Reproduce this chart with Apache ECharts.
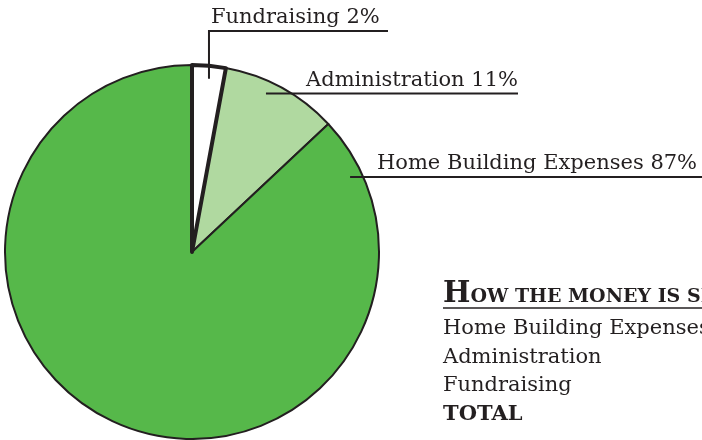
<!DOCTYPE html>
<html><head><meta charset="utf-8">
<script src="https://cdn.jsdelivr.net/npm/echarts@6/dist/echarts.min.js"></script>
<style>html,body{margin:0;padding:0;background:#fff}#c{width:702px;height:440px}</style>
</head><body><div id="c"></div>
<script>
// ---- data ----
const categories = ['Fundraising', 'Administration', 'Home Building Expenses'];
const values = [2.9, 10.1, 87];
const labelPercents = ['2%', '11%', '87%'];
const tableTitleFirst = 'H';
const tableTitleRest = 'OW THE MONEY IS SPENT';
const tableRows = ['Home Building Expenses', 'Administration', 'Fundraising'];
const tableTotal = 'TOTAL';

// ---- style / layout ----
const colors = ['#ffffff', '#b0d9a0', '#56b84a'];
const ink = '#231f20';
const FONT = 'DejaVu Serif';
const cx = 192, cy = 252, R = 187;
// leader geometry: anchor angle (deg clockwise from top), anchor radius, elbow y (or null), end x, label side
const leaders = [
  { ang: 5.6, r: 174, elbowY: 31, endX: 388, labelX: 211, align: 'left' },
  { ang: 25, r: 175, elbowY: null, endX: 518, labelX: 518, align: 'right' },
  { ang: 64.6, r: 175, elbowY: null, endX: 702, labelX: 377, align: 'left' }
];

const chart = echarts.init(document.getElementById('c'), null, { renderer: 'canvas' });

const pieData = categories.map((n, i) => ({ name: n, value: values[i], itemStyle: { color: colors[i] } }));

const option = {
  animation: false,
  backgroundColor: '#fff',
  title: [
    {
      left: 443, top: 280, padding: 0,
      text: '{h|' + tableTitleFirst + '}{s|' + tableTitleRest + '}',
      textStyle: {
        rich: {
          h: { fontFamily: FONT, fontSize: 29, fontWeight: 'bold', color: ink, lineHeight: 29, verticalAlign: 'bottom' },
          s: { fontFamily: FONT, fontSize: 19, fontWeight: 'bold', color: ink, lineHeight: 19, verticalAlign: 'bottom', padding: [0, 0, 2, 0] }
        }
      }
    },
    {
      left: 443, top: 314, padding: 0,
      text: tableRows.map(r => '{r|' + r + '}').join('\n') + '\n{b|' + tableTotal + '}',
      textStyle: {
        rich: {
          r: { fontFamily: FONT, fontSize: 21, fontWeight: 'normal', color: ink, lineHeight: 28.7 },
          b: { fontFamily: FONT, fontSize: 21, fontWeight: 'bold', color: ink, lineHeight: 28.7 }
        }
      }
    }
  ],
  graphic: [
    { type: 'line', shape: { x1: 443, y1: 308, x2: 702, y2: 308 }, style: { stroke: ink, lineWidth: 1.5 } }
  ],
  series: [
    {
      type: 'pie',
      center: [cx, cy],
      radius: [0, R],
      startAngle: 90,
      clockwise: true,
      silent: true,
      data: pieData,
      itemStyle: { borderColor: ink, borderWidth: 2 },
      label: { show: false },
      labelLine: { show: false }
    },
    {
      type: 'pie',
      center: [cx, cy],
      radius: [0, R],
      startAngle: 90,
      clockwise: true,
      avoidLabelOverlap: false,
      silent: true,
      z: 3,
      data: categories.map((n, i) => ({
        name: n, value: values[i],
        itemStyle: i === 0
          ? { color: 'rgba(0,0,0,0)', borderColor: ink, borderWidth: 4 }
          : { color: 'rgba(0,0,0,0)', borderWidth: 0 }
      })),
      label: {
        show: true,
        position: 'outside',
        fontFamily: FONT,
        fontSize: 21,
        color: ink,
        lineHeight: 24,
        formatter: p => categories[p.dataIndex] + ' ' + labelPercents[p.dataIndex]
      },
      labelLine: { show: true, lineStyle: { color: ink, width: 2 } },
      labelLayout: function (p) {
        const L = leaders[p.dataIndex];
        const a = L.ang * Math.PI / 180;
        const ax = cx + L.r * Math.sin(a), ay = cy - L.r * Math.cos(a);
        let pts, lineY;
        if (L.elbowY !== null) {
          lineY = L.elbowY;
          pts = [[ax, ay], [ax, lineY], [L.endX, lineY]];
        } else {
          lineY = ay;
          pts = [[ax, ay], [(ax + L.endX) / 2, ay], [L.endX, ay]];
        }
        return {
          x: L.labelX, y: lineY - 1, align: L.align, verticalAlign: 'bottom',
          labelLinePoints: pts, hideOverlap: false
        };
      }
    }
  ]
};
chart.setOption(option);
</script>
</body></html>
